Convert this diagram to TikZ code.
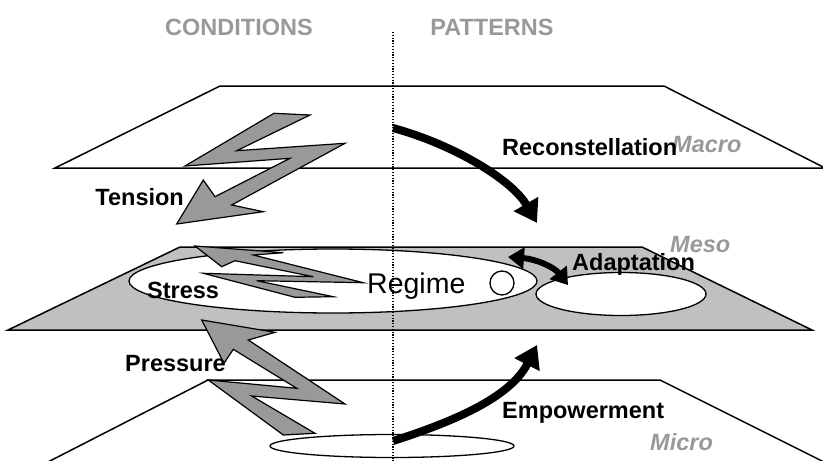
\documentclass[tikz,border=0pt]{standalone}
\usepackage{fontspec}
\setmainfont{Liberation Sans}
\usetikzlibrary{arrows.meta}
\definecolor{labelgray}{HTML}{999999}
\definecolor{boltgray}{HTML}{999999}
\definecolor{mesogray}{HTML}{C0C0C0}

\begin{document}
\begin{tikzpicture}[x=1pt,y=-1pt,
  plane/.style={draw=black, line width=1.5pt, line join=miter},
  ring/.style={draw=black, fill=white, line width=1.3pt},
  bolt/.style={draw=black, fill=boltgray, line width=1.2pt, line join=miter},
  lbl/.style={inner sep=0pt, font=\fontsize{23.5}{27}\selectfont\bfseries},
  lvl/.style={inner sep=0pt, text=labelgray, font=\fontsize{23.5}{27}\selectfont\bfseries\itshape},
  colhead/.style={inner sep=0pt, text=labelgray, font=\fontsize{23.5}{27}\selectfont\bfseries},
  flow/.style={line width=8pt, -{Triangle[length=22pt,width=27pt]}},
  swap/.style={line width=6pt, {Triangle[length=16pt,width=21pt]}-{Triangle[length=16pt,width=21pt]}},
]
\useasboundingbox (0,0) rectangle (823,461);
\clip (0,0) rectangle (823,461);

% column headings
\node[colhead, anchor=base] (cond) at (239,35) {CONDITIONS};
\node[colhead, anchor=base] (patt) at (492,35) {PATTERNS};

% macro level plane
\draw[plane, fill=white] (220,86) -- (664,86) -- (825,168) -- (55,168) -- cycle;
\node[lvl, anchor=base west] (macro) at (672,152) {Macro};

% tension bolt
\draw[bolt] (274,113.3) -- (310,115) -- (236.7,150.7) -- (345,143.3) -- (231.7,205)
  -- (263.3,211.7) -- (176.7,224) -- (203.3,180) -- (215,196.7) -- (290,158.3)
  -- (185,166) -- cycle;
\node[lbl, anchor=base east] (tension) at (184,205) {Tension};

% meso level plane
\draw[plane, fill=mesogray] (180,247) -- (642,247) -- (812,330) -- (8,330) -- cycle;
\draw[ring] (333,281) ellipse [x radius=204, y radius=32];
\draw[ring] (621,294) ellipse [x radius=85, y radius=21.5];
\draw[ring] (502,283) circle [radius=12];
\node[lvl, anchor=base west] (meso) at (670,252) {Meso};

% stress bolt
\draw[bolt] (295,297.3) -- (333.3,296.7) -- (256.7,280.7) -- (363.3,282.7) -- (253.3,255)
  -- (283.3,252.7) -- (195,246) -- (221.7,266.7) -- (235,260.7) -- (313.3,276.7)
  -- (203.3,273.3) -- cycle;
\node[lbl, anchor=base west] (stress) at (147,298) {Stress};
\node[inner sep=0pt, anchor=base west, font=\fontsize{28.5}{32}\selectfont] (regime) at (367,293) {Regime};

% micro level plane
\draw[plane, fill=white] (208,380) -- (660,380) -- (826,463) -- (46,463) -- cycle;
\draw[ring] (392,446) ellipse [x radius=122, y radius=11.5];
\node[lvl, anchor=base west] (micro) at (650,450) {Micro};

% pressure bolt
\draw[bolt] (283.3,435) -- (315,433.3) -- (251.7,396) -- (345,404) -- (248.3,340)
  -- (275,332.3) -- (201.7,320) -- (224,363.3) -- (233.3,349.3) -- (296.7,388.3)
  -- (208.3,380) -- cycle;
\node[lbl, anchor=base west] (pressure) at (125,371) {Pressure};

% pattern arrows
\coordinate (recfrom) at (393,128);
\coordinate (recto) at (537,223);
\coordinate (empfrom) at (393,441);
\coordinate (empto) at (537,345);
\coordinate (adleft) at (508,257);
\coordinate (adright) at (568,285);
\draw[flow] (recfrom) .. controls (455,145) and (512,180) .. (recto);
\draw[flow] (empfrom) .. controls (452,422) and (510,398) .. (empto);
\draw[swap] (adleft) .. controls (536,259) and (554,267) .. (adright);

\node[lbl, anchor=base west] (recon) at (502,155) {Reconstellation};
\node[lbl, anchor=base west] (adapt) at (572,270) {Adaptation};
\node[lbl, anchor=base west] (empower) at (502,418) {Empowerment};

% dividing line between conditions and patterns
\coordinate (divtop) at (393,32);
\coordinate (divbot) at (393,461);
\draw[line width=1.2pt, dash pattern=on 1.2pt off 1.6pt] (divtop) -- (divbot);
\end{tikzpicture}
\end{document}
